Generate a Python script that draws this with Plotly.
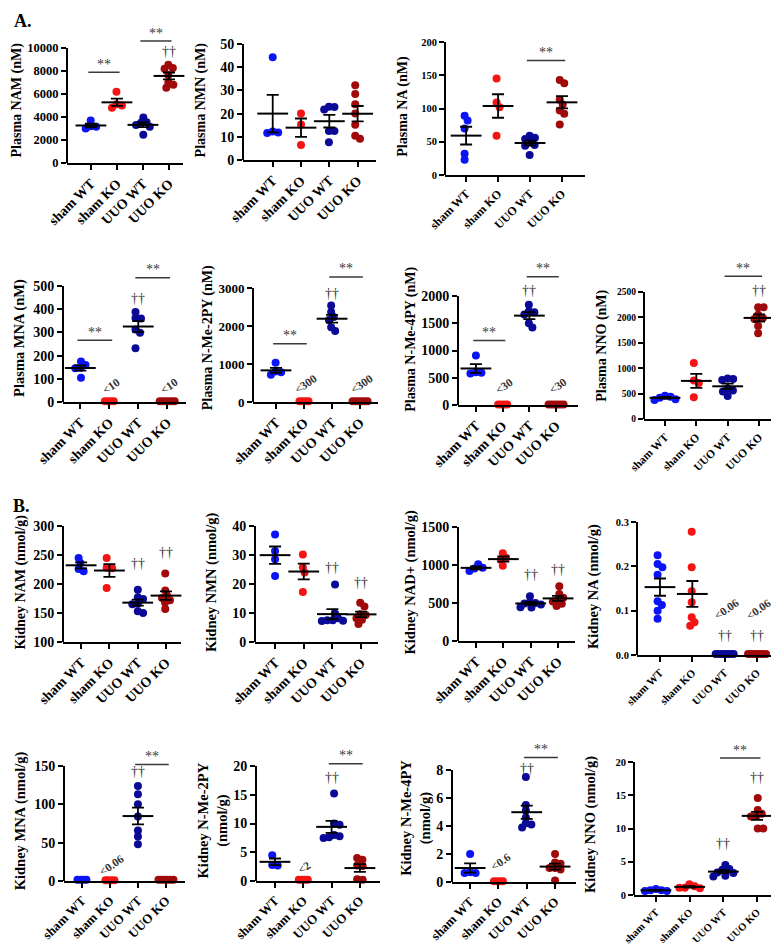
import numpy as np
import plotly.graph_objects as go

# ---------------- data ----------------
groups = ["sham WT", "sham KO", "UUO WT", "UUO KO"]
group_colors = ["#0A14F5", "#F51414", "#0A0A96", "#A00A0A"]

plasma_nam = [[3700, 3000, 3150, 3200], [6200, 4800, 5100, 5000],
              [3500, 3550, 3950, 3150, 3300, 2450], [8550, 8250, 8200, 7650, 7000, 6800, 6550]]
plasma_nmn = [[44.3, 11.6, 12.3, 11.8], [20.0, 15.3, 6.5],
              [23.0, 21.8, 22.8, 12.5, 12.5, 7.7], [32.2, 28.5, 24.0, 20.0, 15.2, 9.2, 10.5]]
plasma_na = [[89, 82, 70, 32, 23], [145, 109, 102, 59],
             [59, 56, 54, 49, 45, 44, 30], [143, 138, 113, 106, 97, 92, 76]]
plasma_mna = [[160, 175, 145, 148, 105], [3, 3, 3, 3],
              [388, 362, 360, 312, 298, 232], [3, 3, 3, 3, 3, 3]]
plasma_nme2py = [[1030, 720, 800, 780], [20, 20, 20, 20],
                 [2540, 2370, 2240, 2160, 1870, 1970], [20, 20, 20, 20, 20, 20]]
plasma_nme4py = [[910, 590, 600, 580], [10, 10, 10, 10],
                 [1840, 1720, 1700, 1660, 1420, 1500], [10, 10, 10, 10, 10, 10]]
plasma_nno = [[390, 460, 375, 440, 420], [1100, 760, 710, 430],
              [785, 770, 795, 455, 540, 560, 600], [2200, 2200, 2050, 1970, 1990, 1830, 1690]]

kidney_nam = [[245, 236, 222, 226], [245, 228, 227, 193],
              [190, 174, 177, 165, 166, 150, 153], [218, 189, 180, 176, 172, 168, 157]]
kidney_nmn = [[37.1, 31.4, 28.5, 22.8], [30.2, 25.8, 24.0, 17.2],
              [19.8, 9.8, 8.2, 7.5, 7.3, 7.5, 7.2], [13.5, 12.2, 9.6, 9.3, 8.2, 7.7, 6.2]]
kidney_nad = [[1010, 965, 920, 955], [1155, 1095, 1070, 990],
              [590, 510, 500, 495, 480, 445, 440], [720, 620, 570, 545, 520, 490, 460]]
kidney_na = [[0.225, 0.198, 0.205, 0.181, 0.113, 0.121, 0.100, 0.082],
             [0.278, 0.198, 0.144, 0.119, 0.085, 0.066, 0.074],
             [0.002] * 7, [0.002] * 7]
kidney_mna = [[1.5, 1.5, 1.5, 1.5], [1.0, 1.0, 1.0, 1.0],
              [124, 113, 100, 84, 66, 58, 48], [1.5] * 6]
kidney_nme2py = [[4.5, 2.8, 2.7], [0.2] * 4,
                 [15.2, 10.0, 9.8, 8.0, 7.5, 7.8, 7.6], [3.7, 4.0, 2.7, 2.6, 0.3, 0.2]]
kidney_nme4py = [[2.0, 0.7, 0.65, 0.65], [0.05] * 4,
                 [7.5, 5.5, 5.1, 4.6, 4.2, 4.1, 3.9], [2.0, 1.4, 1.3, 1.0, 0.9, 1.0, 0.1]]
kidney_nno = [[0.9, 0.7, 0.6, 0.6, 0.7], [1.6, 1.3, 1.0, 1.1, 1.1],
              [4.5, 3.9, 3.8, 3.4, 3.3, 2.9, 2.8], [14.6, 12.8, 11.9, 11.8, 12.2, 10.0, 10.0]]

# ---------------- layout specs ----------------
# box = (left px, right px, px of axis minimum, px of top tick)
panels = [
    dict(data=plasma_nam, title="Plasma NAM (nM)", ymin=0, top=10000, dtick=2000, box=(59, 175, 155, 40),
         xr=(-0.92, 3.54), tf=12.5, xf=14, ttf=14, sig=[(0, 1, 7900), (2, 3, 10600)], dag=[(3, 9700)], lt=[]),
    dict(data=plasma_nmn, title="Plasma NMN (nM)", ymin=0, top=50, dtick=10, box=(235, 368, 152, 36),
         xr=(-1.05, 3.65), tf=14, xf=14, ttf=14, sig=[], dag=[], lt=[]),
    dict(data=plasma_na, title="Plasma NA (nM)", ymin=0, top=200, dtick=50, box=(437, 577, 167, 34),
         xr=(-0.66, 3.72), tf=10.5, xf=12, ttf=14, sig=[(2, 3, 172)], dag=[], lt=[]),
    dict(data=plasma_mna, title="Plasma MNA (nM)", ymin=0, top=500, dtick=100, box=(55, 178, 394, 278),
         xr=(-0.6, 3.65), tf=14, xf=14, ttf=14.5, sig=[(0, 1, 266), (2, 3, 536)], dag=[(2, 445)],
         lt=[(1, "&lt;10", 69), (3, "&lt;10", 69)]),
    dict(data=plasma_nme2py, title="Plasma N-Me-2PY (nM)", ymin=0, top=3000, dtick=1000, box=(245, 370, 394, 280),
         xr=(-0.82, 3.64), tf=13, xf=14, ttf=14, sig=[(0, 1, 1530), (2, 3, 3290)], dag=[(2, 2860)],
         lt=[(1, "&lt;300", 464), (3, "&lt;300", 464)]),
    dict(data=plasma_nme4py, title="Plasma N-Me-4PY (nM)", ymin=0, top=2000, dtick=500, box=(450, 570, 397, 288),
         xr=(-0.67, 3.82), tf=14, xf=14, ttf=14, sig=[(0, 1, 1185), (2, 3, 2353)], dag=[(2, 2110)],
         lt=[(1, "&lt;30", 346), (3, "&lt;30", 346)]),
    dict(data=plasma_nno, title="Plasma NNO (nM)", ymin=0, top=2500, dtick=500, box=(636, 772, 411, 284),
         xr=(-0.67, 3.67), tf=9.5, xf=11.5, ttf=14, sig=[(2, 3, 2808)], dag=[(3, 2530)], lt=[]),
    dict(data=kidney_nam, title="Kidney NAM (nmol/g)", ymin=100, top=300, dtick=50, box=(55, 173, 634, 518),
         xr=(-0.64, 3.53), tf=14, xf=14, ttf=14, sig=[], dag=[(2, 235), (3, 255)], lt=[]),
    dict(data=kidney_nmn, title="Kidney NMN (nmol/g)", ymin=0, top=40, dtick=10, box=(247, 370, 634, 518),
         xr=(-0.7, 3.59), tf=14, xf=14, ttf=14.5, sig=[], dag=[(2, 25.8), (3, 20.4)], lt=[]),
    dict(data=kidney_nad, title="Kidney NAD+ (nmol/g)", ymin=0, top=1500, dtick=500, box=(450, 567, 633, 519),
         xr=(-0.66, 3.62), tf=14, xf=14, ttf=14.5, sig=[], dag=[(2, 880), (3, 945)], lt=[]),
    dict(data=kidney_na, title="Kidney NA (nmol/g)", ymin=0, top=0.3, dtick=0.1, box=(629, 772, 647, 514),
         xr=(-0.71, 3.71), tf=10.5, xf=11, ttf=14.5, sig=[], dag=[(2, 0.045), (3, 0.045)],
         lt=[(2, "&lt;0.06", 0.104), (3, "&lt;0.06", 0.104)], fmt=".1f"),
    dict(data=kidney_mna, title="Kidney MNA (nmol/g)", ymin=0, top=150, dtick=50, box=(56, 177, 873, 758),
         xr=(-0.64, 3.68), tf=14, xf=13, ttf=14.5, sig=[(2, 3, 152)], dag=[(2, 143)], lt=[(1, "&lt;0.06", 21)]),
    dict(data=kidney_nme2py, title="Kidney N-Me-2PY<br>(nmol/g)", ymin=0, top=20, dtick=5, box=(248, 372, 873, 758),
         xr=(-0.67, 3.71), tf=14, xf=13, ttf=14.5, sig=[(2, 3, 20.4)], dag=[(2, 18.0)], lt=[(1, "&lt;2", 2.4)]),
    dict(data=kidney_nme4py, title="Kidney N-Me-4PY<br>(nmol/g)", ymin=0, top=8, dtick=2, box=(444, 568, 874, 762),
         xr=(-0.64, 3.74), tf=14, xf=13, ttf=14.5, sig=[(2, 3, 8.9)], dag=[(2, 8.1)], lt=[(1, "&lt;0.6", 1.45)]),
    dict(data=kidney_nno, title="Kidney NNO (nmol/g)", ymin=0, top=20, dtick=5, box=(626, 768, 887, 754),
         xr=(-0.65, 3.56), tf=10.5, xf=10.5, ttf=14.5, sig=[(2, 3, 20.6)], dag=[(2, 7.7), (3, 17.6)], lt=[]),
]

W, H = 779, 945
FONT = "Liberation Serif"
MARK = 8


def swarm(vals, ppu_y, ppu_x, dist):
    vals = np.asarray(vals, dtype=float)
    order = np.argsort(-vals, kind="stable")
    placed = []
    offs = np.zeros(len(vals))
    cands = [0.0]
    for k in range(1, 400):
        cands += [k * 0.25, -k * 0.25]
    for idx in order:
        y = vals[idx] * ppu_y
        chosen = 0.0
        for c in cands:
            if all((c - px) ** 2 + (y - py) ** 2 >= dist ** 2 for px, py in placed):
                chosen = c
                break
        placed.append((chosen, y))
        offs[idx] = chosen
    offs = offs - (offs.max() + offs.min()) / 2
    return offs / ppu_x


fig = go.Figure()
shapes = []
annotations = []
layout_axes = {}

for i, p in enumerate(panels, start=1):
    xa = "x" if i == 1 else f"x{i}"
    ya = "y" if i == 1 else f"y{i}"
    L, R, B, T = p["box"]
    span = p["top"] - p["ymin"]
    ppu_y = (B - T) / span
    ext = max([p["top"]] + [s[2] for s in p["sig"]]) + 0.03 * span
    dom_top_px = B - (ext - p["ymin"]) * ppu_y
    xlo, xhi = p["xr"]
    ppu_x = (R - L) / (xhi - xlo)

    for g, vals in enumerate(p["data"]):
        tiny = max(vals) - p["ymin"] < 0.03 * span
        dist = 3.0 if tiny else 5.5
        offs = swarm(vals, ppu_y, ppu_x, dist)
        fig.add_trace(go.Scatter(
            x=g + offs, y=vals, mode="markers", xaxis=xa, yaxis=ya,
            marker=dict(size=MARK, color=group_colors[g], line=dict(width=0)),
            cliponaxis=False, showlegend=False, hoverinfo="y"))
    for g, vals in enumerate(p["data"]):
        tiny = max(vals) - p["ymin"] < 0.03 * span
        if tiny:
            continue
        arr = np.asarray(vals, dtype=float)
        mean = arr.mean()
        sem = arr.std(ddof=1) / np.sqrt(len(arr))
        fig.add_trace(go.Scatter(
            x=[g], y=[mean], mode="markers", xaxis=xa, yaxis=ya,
            marker=dict(symbol="line-ew", size=22, color="black", line=dict(width=2, color="black")),
            error_y=dict(type="data", array=[sem], color="black", thickness=1.8, width=6),
            cliponaxis=False, showlegend=False, hoverinfo="skip"))

    for a, b, yv in p["sig"]:
        fig.add_trace(go.Scatter(
            x=[a - 0.1, b + 0.1], y=[yv, yv], mode="lines", xaxis=xa, yaxis=ya,
            line=dict(color="#3a3a3a", width=1.5), showlegend=False, hoverinfo="skip"))
        annotations.append(dict(x=(a + b) / 2, y=yv, xref=xa, yref=ya, text="**", showarrow=False,
                                yshift=8, font=dict(family=FONT, size=14, color="#3a3a3a")))
    for g, yv in p["dag"]:
        annotations.append(dict(x=g, y=yv, xref=xa, yref=ya, text="††", showarrow=False,
                                font=dict(family=FONT, size=14, color="#333333")))
    for g, txt, yv in p["lt"]:
        annotations.append(dict(x=g + 0.06, y=yv, xref=xa, yref=ya, text=txt, showarrow=False,
                                textangle=-35, font=dict(family=FONT, size=11.5, color="#333333", weight="bold")))

    # y axis line drawn only up to the top tick
    shapes.append(dict(type="line", xref=f"{xa} domain", yref=ya, x0=0, x1=0,
                       y0=p["ymin"], y1=p["top"], line=dict(color="black", width=2)))

    tickvals = list(np.round(np.arange(p["ymin"], p["top"] + p["dtick"] / 2, p["dtick"]), 6))
    layout_axes[("xaxis" if i == 1 else f"xaxis{i}")] = dict(
        domain=[L / W, R / W], anchor=ya, range=[xlo, xhi],
        tickmode="array", tickvals=[0, 1, 2, 3], ticktext=groups, tickangle=-45,
        ticks="outside", ticklen=5, tickwidth=2, tickcolor="black",
        showline=True, linewidth=2, linecolor="black", showgrid=False, zeroline=False,
        automargin=False, fixedrange=True,
        tickfont=dict(family=FONT, size=p["xf"], color="black", weight="bold"))
    layout_axes[("yaxis" if i == 1 else f"yaxis{i}")] = dict(
        domain=[1 - B / H, 1 - dom_top_px / H], anchor=xa, range=[p["ymin"], ext],
        tickmode="array", tickvals=tickvals, tickformat=p.get("fmt", "d"),
        ticks="outside", ticklen=5, tickwidth=2, tickcolor="black",
        showline=False, showgrid=False, zeroline=False, automargin=False, fixedrange=True,
        tickfont=dict(family=FONT, size=p["tf"], color="black", weight="bold"),
        title=dict(text=p["title"], font=dict(family=FONT, size=p["ttf"], color="black", weight="bold")))

annotations.append(dict(x=4 / W, y=1 - 13 / H, xref="paper", yref="paper", text="A.", showarrow=False,
                        xanchor="left", yanchor="middle", font=dict(family=FONT, size=18, color="black", weight="bold")))
annotations.append(dict(x=3 / W, y=1 - 498 / H, xref="paper", yref="paper", text="B.", showarrow=False,
                        xanchor="left", yanchor="middle", font=dict(family=FONT, size=18, color="black", weight="bold")))

fig.update_layout(
    template="none", width=W, height=H, margin=dict(l=0, r=0, t=0, b=0),
    paper_bgcolor="white", plot_bgcolor="rgba(0,0,0,0)",
    shapes=shapes, annotations=annotations, showlegend=False,
    font=dict(family=FONT, color="black"),
    **layout_axes)

fig.write_html("out.html")
